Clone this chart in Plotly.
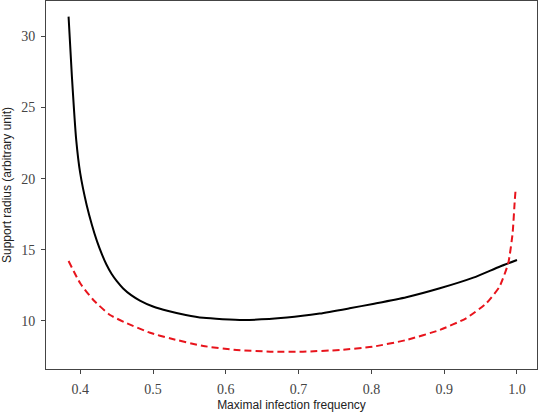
import plotly.graph_objects as go

black_x = [0.384, 0.3886, 0.3945, 0.400, 0.409, 0.416, 0.423, 0.430, 0.436, 0.443, 0.450, 0.459,
           0.470, 0.482, 0.500, 0.521, 0.545, 0.569, 0.624, 0.684, 0.729, 0.770, 0.802, 0.848,
           0.894, 0.940, 0.976, 1.000]
black_y = [31.4, 27.18, 22.73, 20.38, 18.1, 16.75, 15.6, 14.65, 13.95, 13.3, 12.8, 12.27,
           11.8, 11.42, 11.0, 10.68, 10.40, 10.20, 10.05, 10.22, 10.50, 10.87, 11.18, 11.65,
           12.28, 13.03, 13.80, 14.27]

red_x = [0.384, 0.400, 0.418, 0.441, 0.464, 0.496, 0.523, 0.569, 0.615, 0.661, 0.706,
         0.757, 0.802, 0.848, 0.894, 0.930, 0.958, 0.976, 0.988, 0.994, 0.997, 0.998]
red_y = [14.2, 12.63, 11.46, 10.4, 9.82, 9.15, 8.76, 8.22, 7.94, 7.82, 7.82,
         7.94, 8.17, 8.64, 9.35, 10.17, 11.23, 12.4, 14.04, 16.15, 18.5, 19.15]

x_ticks = [0.4, 0.5, 0.6, 0.7, 0.8, 0.9, 1.0]
x_tick_labels = ["0.4", "0.5", "0.6", "0.7", "0.8", "0.9", "1.0"]
y_ticks = [10, 15, 20, 25, 30]
y_tick_labels = ["10", "15", "20", "25", "30"]

fig = go.Figure()
fig.add_trace(go.Scatter(x=black_x, y=black_y, mode="lines",
                         line=dict(color="black", width=2, shape="spline", smoothing=0.6),
                         showlegend=False))
fig.add_trace(go.Scatter(x=red_x, y=red_y, mode="lines",
                         line=dict(color="#e8141c", width=2, dash="7px,4px", shape="spline", smoothing=0.5),
                         showlegend=False))

tick_font = dict(family="Liberation Serif, serif", size=14, color="#444444")
axis_common = dict(showgrid=False, zeroline=False, showline=True, linecolor="#444444", linewidth=1,
                   mirror=True, ticks="outside", ticklen=4, tickcolor="#444444", tickfont=tick_font)

fig.update_layout(
    width=545, height=412,
    margin=dict(l=46, r=8, t=1, b=43),
    paper_bgcolor="white", plot_bgcolor="white",
    xaxis=dict(range=[0.353, 1.0275], tickvals=x_ticks, ticktext=x_tick_labels,
               ticklabelstandoff=3,
               title=dict(text="Maximal infection frequency", standoff=6,
                          font=dict(family="Liberation Sans, Arial, sans-serif", size=12, color="#222222")),
               **axis_common),
    yaxis=dict(range=[6.6, 32.5], tickvals=y_ticks, ticktext=y_tick_labels,
               ticklabelstandoff=3,
               title=dict(text="Support radius (arbitrary unit)", standoff=8,
                          font=dict(family="Liberation Sans, Arial, sans-serif", size=12, color="#222222")),
               **axis_common),
)

fig.write_html("out.html")
